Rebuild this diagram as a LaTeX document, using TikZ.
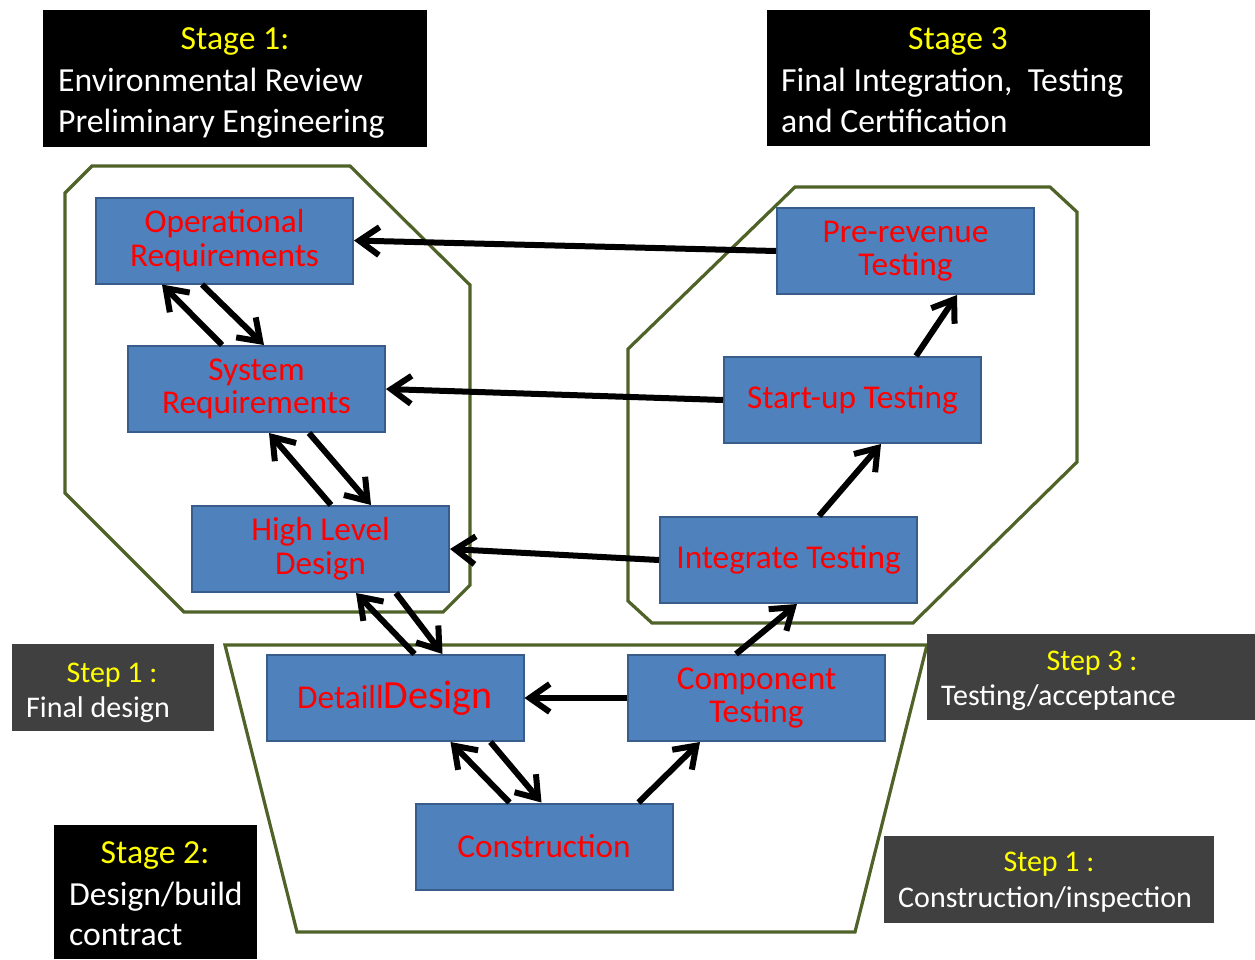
\documentclass[tikz,border=0pt]{standalone}
\usepackage{fontspec}
\setmainfont{Carlito}
\usetikzlibrary{arrows.meta}
\definecolor{boxblue}{HTML}{4F81BD}
\definecolor{boxedge}{HTML}{385D8A}
\definecolor{zone}{HTML}{4F6228}
\definecolor{stepgray}{HTML}{404040}
\definecolor{labelyellow}{HTML}{FFFF00}
\newcommand{\boxfont}{\fontsize{33.3}{33.5}\selectfont}
\newcommand{\stagefont}{\fontsize{33.7}{41}\selectfont}
\newcommand{\stepfont}{\fontsize{30}{37}\selectfont}

\begin{document}
\begin{tikzpicture}[x=1pt,y=-1pt,
  phase/.style={draw=boxedge, line width=2pt, fill=boxblue,
    minimum width=257pt, minimum height=86pt, inner sep=0pt,
    align=center, text=red, font=\boxfont},
  zoneline/.style={draw=zone, line width=3.2pt, line join=miter},
  flow/.style={line width=6pt, -{Straight Barb[length=20pt,width=28pt]}},
  stagebox/.style={fill=black, inner sep=0pt, anchor=north west},
  stepbox/.style={fill=stepgray, inner sep=0pt, anchor=north west},
  headtxt/.style={text=labelyellow, anchor=base, inner sep=0pt},
  bodytxt/.style={text=white, anchor=base west, inner sep=0pt},
]
\useasboundingbox[fill=white] (0,0) rectangle (1255,959);

% stage outlines
\draw[zoneline] (92,166) -- (350,166) -- (470,285) -- (470,585) -- (443,612)
  -- (184,612) -- (65,493) -- (65,193) -- cycle;
\draw[zoneline] (795,187) -- (1050,187) -- (1077,212) -- (1077,462) -- (913,623)
  -- (652,623) -- (628,601) -- (628,349) -- cycle;
\draw[zoneline] (225,645) -- (927,645) -- (855,932) -- (297,932) -- cycle;

% process boxes
\node[phase] (op)    at (224.5,240.5) {Operational\\Requirements};
\node[phase] (sys)   at (256.5,389)   {System\\Requirements};
\node[phase] (hld)   at (320.5,549)   {High Level\\Design};
\node[phase] (det)   at (395,698)     {Detaill{\fontsize{40}{40}\selectfont Design}};
\node[phase] (con)   at (544,846.5)   {Construction};
\node[phase] (comp)  at (756.5,698)   {Component\\Testing};
\node[phase] (integ) at (788.5,560)   {Integrate Testing};
\node[phase] (start) at (852.5,400)   {Start-up Testing};
\node[phase] (pre)   at (905.5,251)   {Pre-revenue\\Testing};

% verification feedback
\draw[flow] (pre.west)   -- (op.east);
\draw[flow] (start.west) -- (sys.east);
\draw[flow] (integ.west) -- (hld.east);
\draw[flow] (comp.west)  -- (det.east);

% decomposition (down) and iteration (up)
\draw[flow] ([xshift=95pt]sys.north west)  -- ([xshift=67pt]op.south west);
\draw[flow] ([xshift=107pt]op.south west)  -- ([xshift=137pt]sys.north west);
\draw[flow] ([xshift=140pt]hld.north west) -- ([xshift=142pt]sys.south west);
\draw[flow] ([xshift=182pt]sys.south west) -- ([xshift=180pt]hld.north west);
\draw[flow] ([xshift=149pt]det.north west) -- ([xshift=165pt]hld.south west);
\draw[flow] ([xshift=205pt]hld.south west) -- ([xshift=177pt]det.north west);
\draw[flow] ([xshift=95pt]con.north west)  -- ([xshift=185pt]det.south west);
\draw[flow] ([xshift=225pt]det.south west) -- ([xshift=127pt]con.north west);

% integration (up the right side)
\draw[flow] ([xshift=224pt]con.north west)   -- ([xshift=73pt]comp.south west);
\draw[flow] ([xshift=109pt]comp.north west)  -- ([xshift=138pt]integ.south west);
\draw[flow] ([xshift=160pt]integ.north west) -- ([xshift=158pt]start.south west);
\draw[flow] ([xshift=193pt]start.north west) -- ([xshift=181pt]pre.south west);

% stage captions
\node[stagebox, minimum width=384pt, minimum height=137pt] (s1box) at (43,10) {};
\node[headtxt, font=\stagefont] (s1head) at (235,49) {Stage 1:};
\node[bodytxt, font=\stagefont] (s1a) at (58,91)  {Environmental Review};
\node[bodytxt, font=\stagefont] (s1b) at (58,132) {Preliminary Engineering};

\node[stagebox, minimum width=383pt, minimum height=136pt] (s3box) at (767,10) {};
\node[headtxt, font=\stagefont] (s3head) at (958,49) {Stage 3};
\node[bodytxt, font=\stagefont] (s3a) at (781,91)  {Final Integration,\ \ Testing};
\node[bodytxt, font=\stagefont] (s3b) at (781,132) {and Certification};

\node[stagebox, minimum width=203pt, minimum height=134pt] (s2box) at (54,825) {};
\node[headtxt, font=\stagefont] (s2head) at (155,863) {Stage 2:};
\node[bodytxt, font=\stagefont] (s2a) at (69,905) {Design/build};
\node[bodytxt, font=\stagefont] (s2b) at (69,945) {contract};

% step captions
\node[stepbox, minimum width=202pt, minimum height=87pt] (p1box) at (12,644) {};
\node[headtxt, font=\stepfont] (p1head) at (112,682) {Step 1 :};
\node[bodytxt, font=\stepfont] (p1a) at (26,717) {Final design};

\node[stepbox, minimum width=328pt, minimum height=86pt] (p3box) at (927,634) {};
\node[headtxt, font=\stepfont] (p3head) at (1092,670) {Step 3 :};
\node[bodytxt, font=\stepfont] (p3a) at (941,705) {Testing/acceptance};

\node[stepbox, minimum width=330pt, minimum height=87pt] (p4box) at (884,836) {};
\node[headtxt, font=\stepfont] (p4head) at (1049,871) {Step 1 :};
\node[bodytxt, font=\stepfont] (p4a) at (898,907) {Construction/inspection};
\end{tikzpicture}
\end{document}
